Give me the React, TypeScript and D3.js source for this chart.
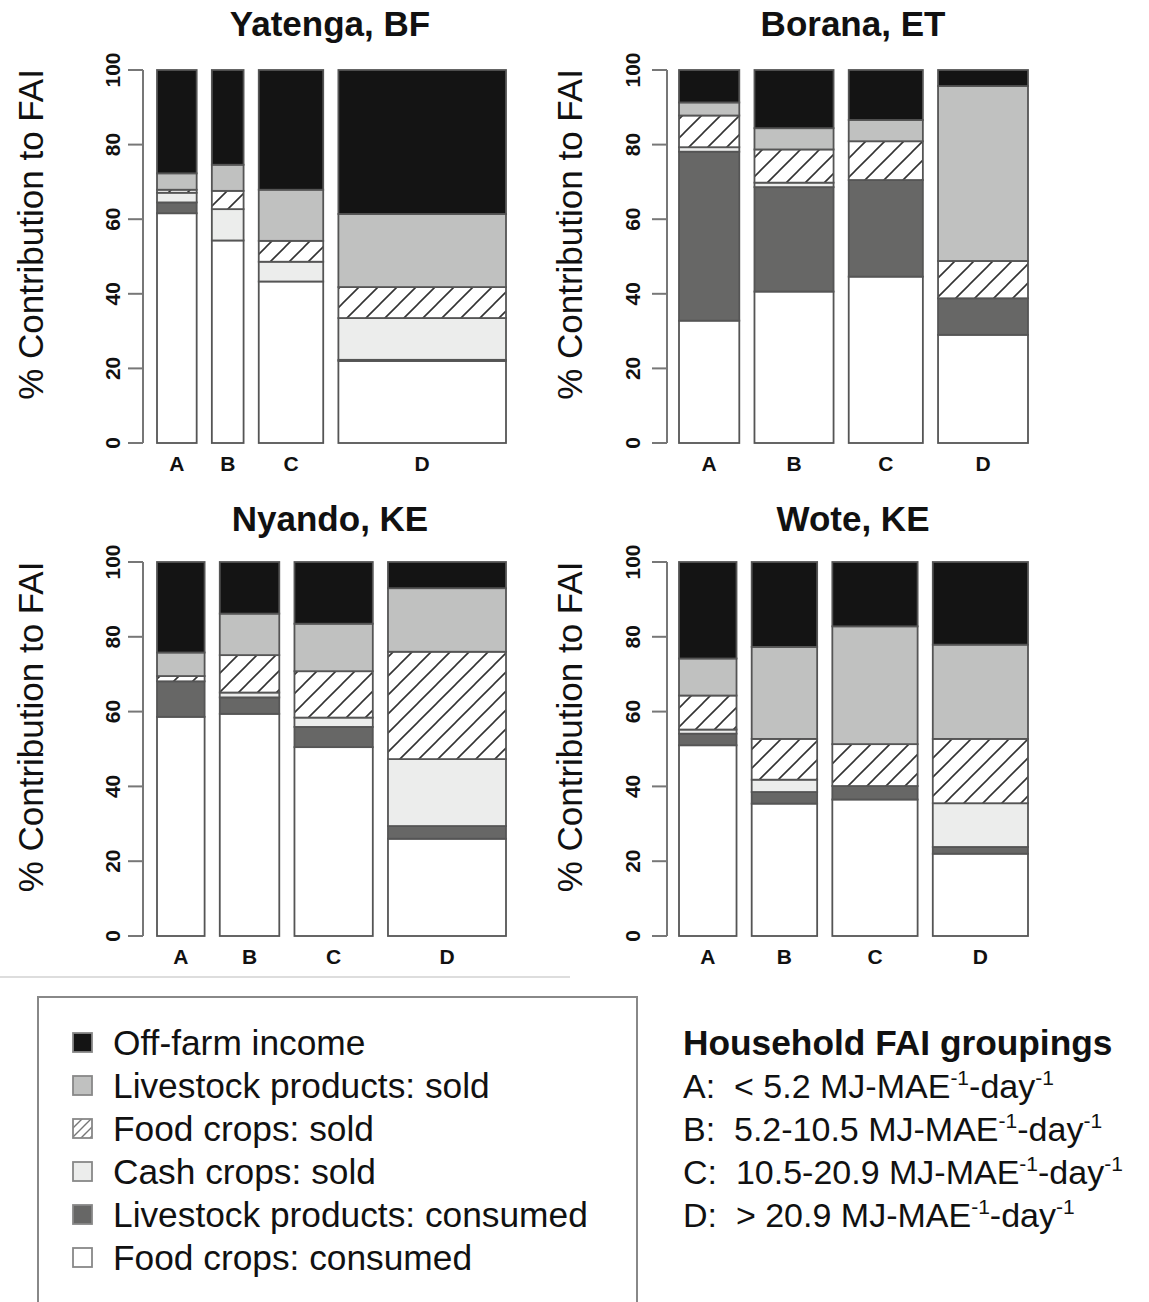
import * as d3 from "d3";

// stack order, bottom to top
const categories = [
  "Food crops: consumed",
  "Livestock products: consumed",
  "Cash crops: sold",
  "Food crops: sold",
  "Livestock products: sold",
  "Off-farm income",
];
const groups = ["A", "B", "C", "D"];
const siteNames = ["Yatenga, BF", "Borana, ET", "Nyando, KE", "Wote, KE"];
const yTicks = [0, 20, 40, 60, 80, 100];

// % contribution to FAI, one row per group A-D, columns follow `categories`
const yatenga = [
  [61.6, 2.9, 2.6, 0.8, 4.4, 27.7],
  [54.3, 0, 8.4, 4.9, 7.0, 25.4],
  [43.3, 0, 5.3, 5.6, 13.7, 32.1],
  [22.0, 0.3, 11.2, 8.3, 19.6, 38.6],
];
const borana = [
  [32.8, 45.3, 1.2, 8.5, 3.5, 8.7],
  [40.6, 28.0, 1.2, 8.9, 5.7, 15.6],
  [44.6, 25.9, 0, 10.4, 5.7, 13.4],
  [29.0, 9.8, 0, 10.0, 46.9, 4.3],
];
const nyando = [
  [58.6, 9.5, 0, 1.4, 6.3, 24.2],
  [59.4, 4.4, 1.3, 10.0, 11.1, 13.8],
  [50.5, 5.4, 2.5, 12.4, 12.7, 16.5],
  [26.0, 3.4, 17.9, 28.7, 17.0, 7.0],
];
const wote = [
  [51.0, 3.1, 1.1, 9.1, 9.9, 25.8],
  [35.4, 3.1, 3.3, 10.9, 24.6, 22.7],
  [36.5, 3.6, 0, 11.2, 31.5, 17.2],
  [22.0, 1.8, 11.7, 17.2, 25.2, 22.1],
];

// relative bar widths (share of households per group)
const yatengaWidths = [40, 32, 65, 169];
const boranaWidths = [61, 80, 75, 91];
const nyandoWidths = [48, 60, 79, 119];
const woteWidths = [58, 66, 86, 96];

const groupingLabels = ["A:  < 5.2", "B:  5.2-10.5", "C:  10.5-20.9", "D:  > 20.9"];

const fills = ["#ffffff", "#676766", "#ecedec", "url(#hatch)", "#c0c1c0", "#141414"];
const legendFills = ["#ffffff", "#676766", "#ecedec", "url(#hatchSmall)", "#c0c1c0", "#141414"];
const FONT = "'Liberation Sans', Arial, sans-serif";

type Frame = {
  axisX: number;
  barL: number;
  barR: number;
  y0: number;
  y100: number;
  titleX: number;
  titleY: number;
  tickLabX: number;
  ylabX: number;
};

function Panel({ name, values, widths, f }: { name: string; values: number[][]; widths: number[]; f: Frame }) {
  const gap = 0.2 * (d3.mean(widths) as number);
  const starts: number[] = [];
  let acc = 0;
  widths.forEach((w) => {
    starts.push(acc);
    acc += w + gap;
  });
  const total = acc - gap;

  const x = d3.scaleLinear().domain([0, total]).range([f.barL, f.barR]);
  const y = d3.scaleLinear().domain([0, 100]).range([f.y0, f.y100]);

  const rows = groups.map((g, i) => {
    const r: any = { group: g };
    categories.forEach((c, j) => (r[c] = values[i][j]));
    return r;
  });
  const series = d3.stack().keys(categories)(rows);

  return (
    <g>
      <text x={f.titleX} y={f.titleY} textAnchor="middle" fontFamily={FONT} fontWeight="bold" fontSize={35} fill="#111">
        {name}
      </text>

      {/* y axis */}
      <line x1={f.axisX} x2={f.axisX} y1={y(0)} y2={y(100)} stroke="#777" strokeWidth={2} />
      {yTicks.map((t) => (
        <g key={t}>
          <line x1={f.axisX - 15} x2={f.axisX} y1={y(t)} y2={y(t)} stroke="#777" strokeWidth={2} />
          <text
            transform={`translate(${f.tickLabX},${y(t)}) rotate(-90)`}
            textAnchor="middle"
            fontFamily={FONT}
            fontWeight="bold"
            fontSize={21}
            fill="#111"
          >
            {t}
          </text>
        </g>
      ))}
      <text
        transform={`translate(${f.ylabX},${(y(0) + y(100)) / 2 - 22}) rotate(-90)`}
        textAnchor="middle"
        fontFamily={FONT}
        fontSize={35}
        fill="#111"
      >
        % Contribution to FAI
      </text>

      {series.map((s, k) =>
        s.map((d, i) => (
          <rect
            key={`${k}-${i}`}
            x={x(starts[i])}
            width={x(starts[i] + widths[i]) - x(starts[i])}
            y={y(d[1])}
            height={y(d[0]) - y(d[1])}
            fill={fills[k]}
            stroke="#555"
            strokeWidth={1.8}
          />
        ))
      )}

      {groups.map((g, i) => (
        <text
          key={g}
          x={x(starts[i] + widths[i] / 2)}
          y={y(0) + 28}
          textAnchor="middle"
          fontFamily={FONT}
          fontWeight="bold"
          fontSize={21}
          fill="#111"
        >
          {g}
        </text>
      ))}
    </g>
  );
}

export default function App() {
  const left = { axisX: 143, barL: 157, barR: 506, titleX: 330, tickLabX: 120, ylabX: 43 };
  const right = { axisX: 667, barL: 679, barR: 1028, titleX: 853, tickLabX: 640, ylabX: 582 };
  const top = { y0: 443, y100: 70, titleY: 36 };
  const bottom = { y0: 936, y100: 562, titleY: 531 };

  const panels = [
    { name: siteNames[0], values: yatenga, widths: yatengaWidths, f: { ...left, ...top } },
    { name: siteNames[1], values: borana, widths: boranaWidths, f: { ...right, ...top } },
    { name: siteNames[2], values: nyando, widths: nyandoWidths, f: { ...left, ...bottom } },
    { name: siteNames[3], values: wote, widths: woteWidths, f: { ...right, ...bottom } },
  ];

  const legendOrder = d3.range(categories.length).reverse();

  return (
    <div>
      <style>{`body{margin:0;background:#fff}`}</style>
      <svg width={1149} height={1302} style={{ display: "block", background: "#fff" }}>
        <defs>
          <pattern id="hatch" patternUnits="userSpaceOnUse" width={19} height={19}>
            <rect width={19} height={19} fill="#fff" />
            <path d="M-5,5 L5,-5 M0,19 L19,0 M14,24 L24,14" stroke="#333" strokeWidth={1.6} />
          </pattern>
          <pattern id="hatchSmall" patternUnits="userSpaceOnUse" width={9} height={9}>
            <rect width={9} height={9} fill="#fff" />
            <path d="M-2,2 L2,-2 M0,9 L9,0 M7,11 L11,7" stroke="#777" strokeWidth={1.4} />
          </pattern>
        </defs>

        {panels.map((p) => (
          <Panel key={p.name} name={p.name} values={p.values} widths={p.widths} f={p.f as Frame} />
        ))}

        <line x1={0} x2={570} y1={977} y2={977} stroke="#ddd" strokeWidth={2} />

        {/* legend */}
        <rect x={38} y={997} width={599} height={330} fill="#fff" stroke="#888" strokeWidth={2} />
        {legendOrder.map((k, i) => (
          <g key={categories[k]} transform={`translate(73,${1033 + i * 43})`}>
            <rect width={19} height={19} fill={legendFills[k]} stroke="#888" strokeWidth={1.8} />
            <text x={40} y={22} fontFamily={FONT} fontSize={35.3} fill="#111">
              {categories[k]}
            </text>
          </g>
        ))}

        <text x={683} y={1055} fontFamily={FONT} fontWeight="bold" fontSize={35.3} fill="#111">
          Household FAI groupings
        </text>
        {groupingLabels.map((g, i) => (
          <text key={g} x={683} y={1098 + i * 43} fontFamily={FONT} fontSize={34} fill="#111" xmlSpace="preserve" style={{ whiteSpace: "pre" }}>
            {g} MJ-MAE
            <tspan fontSize={21} dy={-13}>-1</tspan>
            <tspan dy={13}>-day</tspan>
            <tspan fontSize={21} dy={-13}>-1</tspan>
          </text>
        ))}
      </svg>
    </div>
  );
}
